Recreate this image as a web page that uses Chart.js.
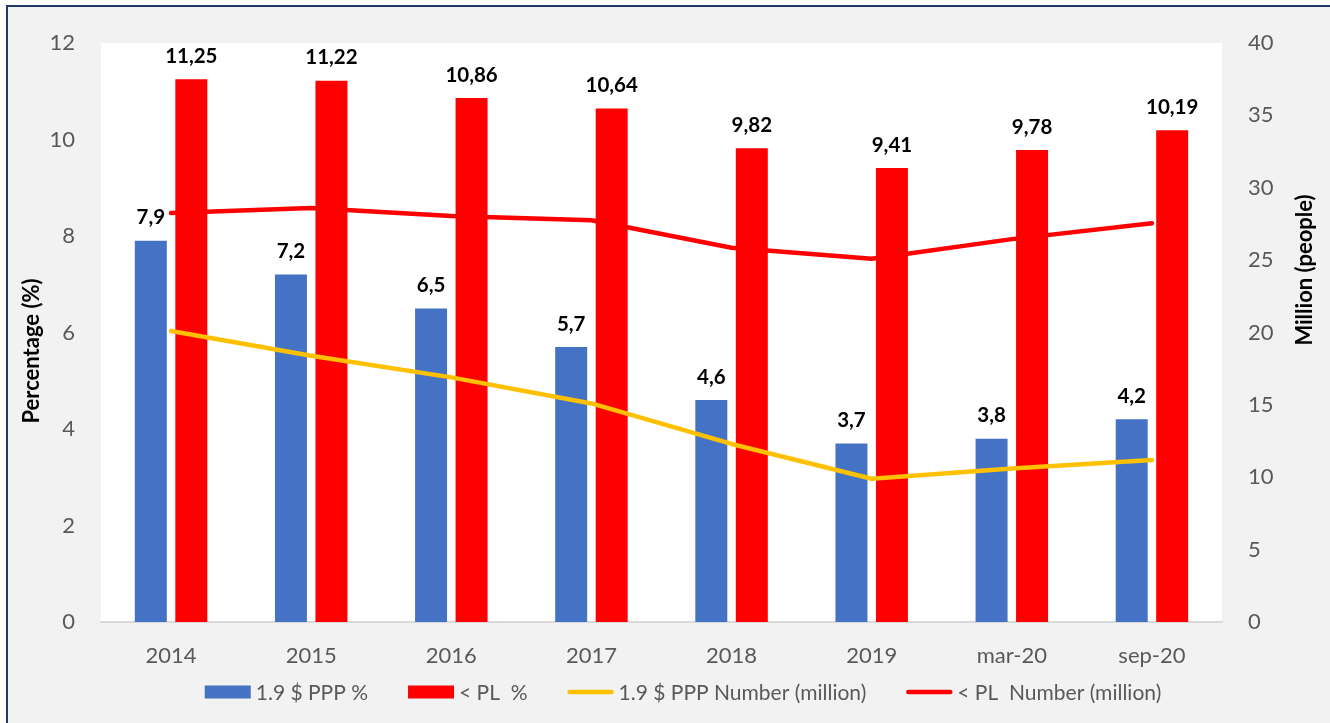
<!DOCTYPE html>
<html>
<head>
<meta charset="utf-8">
<script src="https://cdn.jsdelivr.net/npm/chart.js@4.4.1/dist/chart.umd.min.js"></script>
<style>
  html, body { margin: 0; padding: 0; background: #ffffff; }
  #wrap { width: 1330px; height: 723px; position: relative; }
</style>
</head>
<body>
<div id="wrap"><canvas id="c" width="1330" height="723"></canvas></div>
<script>
// ---- Data ----
const categories = ['2014', '2015', '2016', '2017', '2018', '2019', 'mar-20', 'sep-20'];
const pppPercent = [7.9, 7.2, 6.5, 5.7, 4.6, 3.7, 3.8, 4.2];
const plPercent = [11.25, 11.22, 10.86, 10.64, 9.82, 9.41, 9.78, 10.19];
const pppMillion = [20.1, 18.4, 16.9, 15.1, 12.3, 9.9, 10.6, 11.2];
const plMillion = [28.25, 28.6, 28.05, 27.75, 25.85, 25.1, 26.45, 27.55];
const seriesNames = ['1.9 $ PPP %', '< PL  %', '1.9 $ PPP Number (million)', '< PL  Number (million)'];
const leftTicks = [0, 2, 4, 6, 8, 10, 12];
const rightTicks = [0, 5, 10, 15, 20, 25, 30, 35, 40];
const leftTitle = 'Percentage (%)';
const rightTitle = 'Million (people)';

const FONT = 'Lato, "Open Sans", sans-serif';
const BLUE = '#4472c4', RED = '#ff0000', YELLOW = '#ffc000';
const TICK_COLOR = '#595959';

const bgPlugin = {
  id: 'bg',
  beforeDraw(chart) {
    const ctx = chart.ctx, a = chart.chartArea;
    ctx.save();
    ctx.fillStyle = '#ffffff';
    ctx.fillRect(0, 0, chart.width, chart.height);
    ctx.fillStyle = '#f2f2f2';
    ctx.fillRect(8, 7, chart.width - 8, chart.height - 7);
    ctx.fillStyle = '#ffffff';
    ctx.fillRect(a.left, a.top, a.right - a.left, a.bottom - a.top);
    ctx.strokeStyle = '#203864';
    ctx.lineWidth = 2;
    ctx.beginPath();
    ctx.moveTo(7, 723); ctx.lineTo(7, 6); ctx.lineTo(1330, 6);
    ctx.stroke();
    ctx.restore();
  }
};

const labelPlugin = {
  id: 'barLabels',
  afterDatasetsDraw(chart) {
    const ctx = chart.ctx;
    ctx.save();
    ctx.font = 'bold 20.5px ' + FONT;
    ctx.fillStyle = '#000000';
    ctx.textAlign = 'center';
    ctx.textBaseline = 'middle';
    chart.data.datasets.forEach((ds, i) => {
      if (ds.type !== 'bar') return;
      const meta = chart.getDatasetMeta(i);
      meta.data.forEach((el, j) => {
        const txt = String(ds.data[j]).replace('.', ',');
        ctx.fillText(txt, el.x, el.y - 23);
      });
    });
    ctx.restore();
  }
};

const extrasPlugin = {
  id: 'extras',
  afterDraw(chart) {
    const ctx = chart.ctx;
    ctx.save();
    // axis titles
    ctx.font = 'bold 22px ' + FONT;
    ctx.fillStyle = '#000000';
    ctx.textAlign = 'center';
    ctx.textBaseline = 'middle';
    ctx.save();
    ctx.translate(32, 351);
    ctx.rotate(-Math.PI / 2);
    ctx.fillText(leftTitle, 0, 0);
    ctx.restore();
    ctx.save();
    ctx.translate(1305, 270);
    ctx.rotate(-Math.PI / 2);
    ctx.fillText(rightTitle, 0, 0);
    ctx.restore();

    // legend
    ctx.font = '21px ' + FONT;
    ctx.textBaseline = 'middle';
    ctx.textAlign = 'left';
    const markerW = 46, gap = 5, spacing = 40;
    const items = chart.data.datasets.map(ds => ({
      text: ds.label, type: ds.type, color: ds.type === 'bar' ? ds.backgroundColor : ds.borderColor,
      w: ctx.measureText(ds.label).width
    }));
    let total = 0;
    items.forEach((it, k) => { total += markerW + gap + it.w + (k < items.length - 1 ? spacing : 0); });
    let x = 683 - total / 2;
    const y = 692;
    items.forEach(it => {
      if (it.type === 'bar') {
        ctx.fillStyle = it.color;
        ctx.fillRect(x, y - 6.5, markerW, 13);
      } else {
        ctx.strokeStyle = it.color;
        ctx.lineWidth = 4.5;
        ctx.lineCap = 'round';
        ctx.beginPath();
        ctx.moveTo(x + 2, y); ctx.lineTo(x + markerW - 2, y);
        ctx.stroke();
      }
      ctx.fillStyle = TICK_COLOR;
      ctx.fillText(it.text, x + markerW + gap, y + 1);
      x += markerW + gap + it.w + spacing;
    });
    ctx.restore();
  }
};

function build() {
  new Chart(document.getElementById('c'), {
    data: {
      labels: categories,
      datasets: [
        { type: 'bar', label: seriesNames[0], data: pppPercent, backgroundColor: BLUE, yAxisID: 'y', order: 2,
          categoryPercentage: 0.578, barPercentage: 0.79 },
        { type: 'bar', label: seriesNames[1], data: plPercent, backgroundColor: RED, yAxisID: 'y', order: 2,
          categoryPercentage: 0.578, barPercentage: 0.79 },
        { type: 'line', label: seriesNames[2], data: pppMillion, borderColor: YELLOW, backgroundColor: YELLOW,
          borderWidth: 4.5, pointRadius: 0, tension: 0, yAxisID: 'y1', order: 1,
          borderCapStyle: 'round', borderJoinStyle: 'round' },
        { type: 'line', label: seriesNames[3], data: plMillion, borderColor: RED, backgroundColor: RED,
          borderWidth: 4.5, pointRadius: 0, tension: 0, yAxisID: 'y1', order: 1,
          borderCapStyle: 'round', borderJoinStyle: 'round' }
      ]
    },
    options: {
      responsive: false,
      animation: false,
      devicePixelRatio: 1,
      layout: { padding: { top: 43, left: 0, right: 0, bottom: 0 } },
      plugins: { legend: { display: false }, tooltip: { enabled: false }, title: { display: false } },
      scales: {
        x: {
          grid: { display: false, drawTicks: false },
          border: { display: true, color: '#d9d9d9', width: 2 },
          ticks: { color: TICK_COLOR, font: { family: FONT, size: 22 }, padding: 21, maxRotation: 0 },
          afterFit(s) { s.height = 101; }
        },
        y: {
          position: 'left', min: 0, max: 12,
          grid: { display: false, drawTicks: false },
          border: { display: false },
          afterBuildTicks(s) { s.ticks = leftTicks.map(v => ({ value: v })); },
          ticks: { color: TICK_COLOR, font: { family: FONT, size: 22 }, padding: 26 },
          afterFit(s) { s.width = 101; }
        },
        y1: {
          position: 'right', min: 0, max: 40,
          grid: { display: false, drawTicks: false },
          border: { display: false },
          afterBuildTicks(s) { s.ticks = rightTicks.map(v => ({ value: v })); },
          ticks: { color: TICK_COLOR, font: { family: FONT, size: 22 }, padding: 26 },
          afterFit(s) { s.width = 108; }
        }
      }
    },
    plugins: [bgPlugin, labelPlugin, extrasPlugin]
  });
}

if (document.fonts && document.fonts.load) {
  Promise.all([document.fonts.load('20px Lato'), document.fonts.load('bold 20px Lato')]).then(build, build);
} else { build(); }
</script>
</body>
</html>
